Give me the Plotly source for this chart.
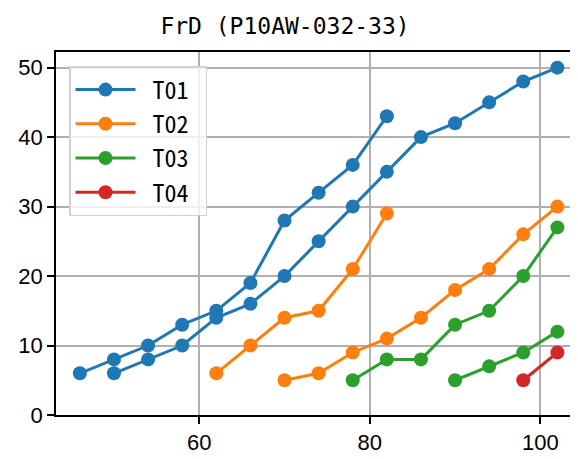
import plotly.graph_objects as go

# T01
t01a_x = [46, 50, 54, 58, 62, 66, 70, 74, 78, 82]
t01a_y = [6, 8, 10, 13, 15, 19, 28, 32, 36, 43]
t01b_x = [50, 54, 58, 62, 66, 70, 74, 78, 82, 86, 90, 94, 98, 102]
t01b_y = [6, 8, 10, 14, 16, 20, 25, 30, 35, 40, 42, 45, 48, 50]
# T02
t02a_x = [62, 66, 70, 74, 78, 82]
t02a_y = [6, 10, 14, 15, 21, 29]
t02b_x = [70, 74, 78, 82, 86, 90, 94, 98, 102]
t02b_y = [5, 6, 9, 11, 14, 18, 21, 26, 30]
# T03
t03a_x = [78, 82, 86, 90, 94, 98, 102]
t03a_y = [5, 8, 8, 13, 15, 20, 27]
t03b_x = [90, 94, 98, 102]
t03b_y = [5, 7, 9, 12]
# T04
t04_x = [98, 102]
t04_y = [5, 9]

x_ticks = [60, 80, 100]
y_ticks = [0, 10, 20, 30, 40, 50]

TICK_FONT = "Liberation Sans, Arial, sans-serif"
TITLE_FONT = "DejaVu Sans Mono, monospace"
LEGEND_FONT = "Noto Sans Mono CJK JP, Noto Sans CJK JP, sans-serif"

series = [
    ("T01", "#1f77b4", [(t01a_x, t01a_y), (t01b_x, t01b_y)]),
    ("T02", "#ff7f0e", [(t02a_x, t02a_y), (t02b_x, t02b_y)]),
    ("T03", "#2ca02c", [(t03a_x, t03a_y), (t03b_x, t03b_y)]),
    ("T04", "#d62728", [(t04_x, t04_y)]),
]

fig = go.Figure()
for name, color, segs in series:
    for i, (xs, ys) in enumerate(segs):
        fig.add_trace(go.Scatter(
            x=xs, y=ys, mode="lines+markers", name="\u00a0" + name + "\u00a0",
            legendgroup=name, showlegend=(i == 0),
            line=dict(color=color, width=3),
            marker=dict(color=color, size=14),
        ))

# page has an 8px body margin, so the figure is 8px smaller than the window
W, H = 570, 451
fig.update_layout(
    width=W, height=H,
    margin=dict(l=48, r=1, t=44, b=44),
    paper_bgcolor="white", plot_bgcolor="white",
    font=dict(family=TICK_FONT, size=22, color="black"),
    title=dict(text="FrD (P10AW-032-33)", x=277 / W, xref="container",
               xanchor="center", y=1 - 18 / H, yanchor="middle",
               font=dict(family=TITLE_FONT, size=23, color="black")),
    legend=dict(x=13 / 521, y=1 - 14 / 363, xanchor="left", yanchor="top",
                bgcolor="rgba(255,255,255,0.8)", bordercolor="#d0d0d0",
                borderwidth=1.5, itemwidth=60, tracegroupgap=0,
                font=dict(family=LEGEND_FONT, size=24, color="black")),
    xaxis=dict(range=[43.2, 104.3], tickvals=x_ticks, showgrid=True,
               gridcolor="#b0b0b0", gridwidth=1.5, zeroline=False,
               showline=True, linecolor="black", linewidth=1.5, mirror=True,
               ticks="outside", ticklen=7, tickwidth=1.5, tickcolor="black",
               tickfont=dict(family=TICK_FONT, size=22, color="black")),
    yaxis=dict(range=[0, 52.25], tickvals=y_ticks, showgrid=True,
               gridcolor="#b0b0b0", gridwidth=1.5, zeroline=False,
               showline=True, linecolor="black", linewidth=1.5, mirror=False,
               ticks="outside", ticklen=7, tickwidth=1.5, tickcolor="black",
               tickfont=dict(family=TICK_FONT, size=22, color="black")),
)

fig.write_html("out.html")
